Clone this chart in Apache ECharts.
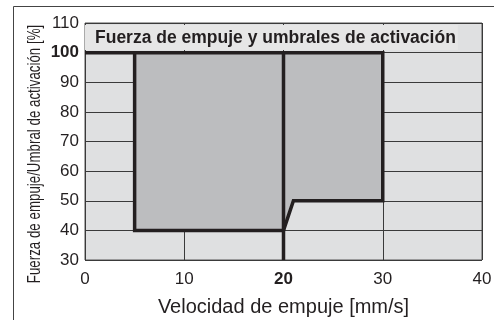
<!DOCTYPE html>
<html>
<head>
<meta charset="utf-8">
<script src="https://cdn.jsdelivr.net/npm/echarts@6/dist/echarts.min.js"></script>
<style>
  html, body { margin: 0; padding: 0; background: #fff; }
  #chart { width: 494px; height: 320px; }
</style>
</head>
<body>
<div id="chart"></div>
<script>
// shaded working zone (polygon corners)
const zoneX = [5, 30, 30, 21, 20, 5]
const zoneY = [100, 100, 50, 50, 40, 40]
// thick outline
const edgeX = [0, 30, 30, 21, 20, 5, 5]
const edgeY = [100, 100, 50, 50, 40, 40, 100]
// vertical limit at 20 mm/s
const limitX = [20, 20]
const limitY = [30, 100]

const boldX = 20
const boldY = 100

const font = 'Liberation Sans, Arial, Helvetica, sans-serif'
const ink = '#231f20'

const chart = echarts.init(document.getElementById('chart'))

let option = {
  animation: false,
  title: {
    text: 'Fuerza de empuje y umbrales de activación',
    left: 85,
    top: 25,
    padding: [4, 2, 3, 10],
    backgroundColor: '#e6e6e6',
    textStyle: { fontFamily: font, fontSize: 17.5, fontWeight: 'bold', color: ink },
  },
  grid: {
    left: 85,
    right: 12,
    top: 23,
    bottom: 60,
    outerBoundsMode: 'none',
    show: true,
    backgroundColor: '#dfe0e1',
    borderColor: '#555',
    borderWidth: 1,
  },
  xAxis: {
    type: 'value',
    min: 0,
    max: 40,
    interval: 10,
    name: 'Velocidad de empuje [mm/s]',
    nameLocation: 'middle',
    nameGap: 37,
    nameTextStyle: { fontFamily: font, fontSize: 20, color: ink },
    axisLine: { show: false },
    axisTick: { show: false },
    splitLine: { lineStyle: { color: '#3a3a3a', width: 1 } },
    axisLabel: {
      margin: 11,
      fontFamily: font,
      fontSize: 17,
      color: ink,
      formatter: (v) => (v === boldX ? '{b|' + v + '}' : '' + v),
      rich: { b: { fontFamily: font, fontSize: 17, fontWeight: 'bold', color: ink } },
    },
  },
  yAxis: {
    type: 'value',
    min: 30,
    max: 110,
    interval: 10,
    axisLine: { show: false },
    axisTick: { show: false },
    splitLine: { lineStyle: { color: '#3a3a3a', width: 1 } },
    axisLabel: {
      margin: 6,
      fontFamily: font,
      fontSize: 17,
      color: ink,
      formatter: (v) => (v === boldY ? '{b|' + v + '}' : '' + v),
      rich: { b: { fontFamily: font, fontSize: 17, fontWeight: 'bold', color: ink } },
    },
  },
  graphic: [
    {
      type: 'rect',
      silent: true,
      shape: { x: 13.5, y: 6.5, width: 500, height: 330 },
      style: { fill: 'none', stroke: '#444', lineWidth: 1 },
    },
    {
      type: 'text',
      silent: true,
      x: 35,
      y: 154,
      rotation: Math.PI / 2,
      scaleX: 0.74,
      style: {
        text: 'Fuerza de empuje/Umbral de activación [%]',
        font: '18px ' + font,
        fill: ink,
        align: 'center',
        verticalAlign: 'middle',
      },
    },
  ],
  series: [
    {
      type: 'custom',
      silent: true,
      z: 1,
      data: [0],
      renderItem: (params, api) => {
        let pts = zoneX.map((x, i) => api.coord([x, zoneY[i]]))
        return {
          type: 'polygon',
          shape: { points: pts },
          style: { fill: '#bcbdbf' },
        }
      },
    },
    {
      type: 'line',
      silent: true,
      z: 3,
      symbol: 'none',
      data: edgeX.map((x, i) => [x, edgeY[i]]),
      lineStyle: { color: ink, width: 3.5, join: 'miter' },
    },
    {
      type: 'line',
      silent: true,
      z: 3,
      symbol: 'none',
      data: limitX.map((x, i) => [x, limitY[i]]),
      lineStyle: { color: ink, width: 3.5 },
    },
  ],
}

chart.setOption(option)
</script>
</body>
</html>
